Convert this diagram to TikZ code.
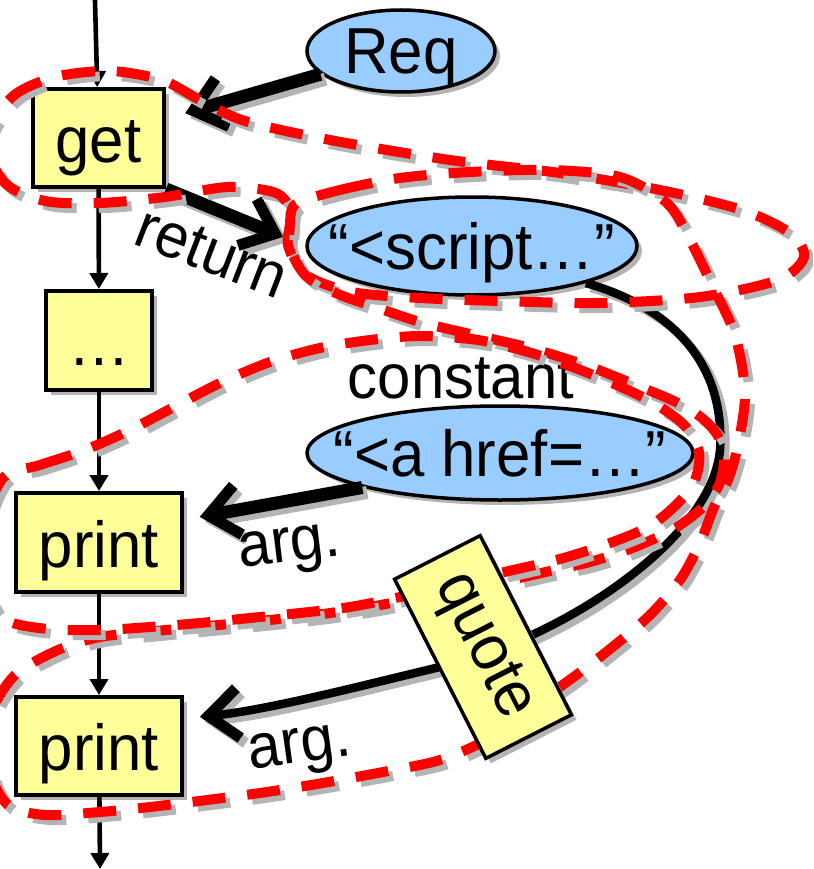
\documentclass[tikz,border=0pt]{standalone}
\usepackage{fontspec}
\setmainfont{Liberation Sans}[FakeStretch=0.95]
\usetikzlibrary{arrows.meta,shadows,shapes.geometric,calc}
\definecolor{boxyellow}{HTML}{FFFF99}
\definecolor{ovalblue}{HTML}{99CCFF}
\definecolor{shgray}{HTML}{B4B4B4}
\definecolor{loopred}{HTML}{FF0000}
\tikzset{
  every node/.style={font=\fontsize{65}{72}\selectfont, inner sep=0pt},
  boxshadow/.style={drop shadow={shadow xshift=5pt, shadow yshift=-5pt, fill=shgray, opacity=1}},
  stmt/.style={draw=black, line width=4pt, fill=boxyellow, boxshadow,
    text height=52pt, text depth=3pt},
  val/.style={ellipse, draw=black, line width=3.5pt, fill=ovalblue, boxshadow,
    inner xsep=-80pt, inner ysep=-25pt, text height=50pt, text depth=4pt},
  lbl/.style={font=\fontsize{63}{70}\selectfont},
  flow/.style={line width=4.6pt, -{Triangle[length=16pt,width=18pt]}},
  dep/.style={line width=13pt, -{Straight Barb[length=30pt,width=50pt,line width=11pt]}},
  copyshift/.style={draw=shgray, transform canvas={shift={(5pt,-5pt)}}},
  plain/.style={},
  sliceline/.style={draw=loopred, line width=10pt, dash pattern=on 33pt off 22pt},
  sliceshadow/.style={sliceline, draw=shgray, transform canvas={shift={(5pt,-5pt)}}},
  quotebox/.style={draw=black, line width=3.5pt, fill=boxyellow}
}
\begin{document}
\begin{tikzpicture}[x=1pt,y=1pt]
\useasboundingbox (0,0) rectangle (813,-869);
\clip (0,0) rectangle (813,-869);

% statements
\node[stmt, minimum width=131pt, minimum height=98pt] (get) at (98.5,-138) {get};
\node[stmt, minimum width=106pt, minimum height=99pt] (dots) at (99,-340.5) {\vphantom{t}…};
\node[stmt, minimum width=166pt, minimum height=99pt] (print1) at (99,-542.5) {print};
\node[stmt, minimum width=166pt, minimum height=98pt] (print2) at (99,-746) {print};

% values
\node[val, minimum width=188pt, minimum height=82pt] (req) at (401,-51) {Req};
\node[val, minimum width=330pt, minimum height=98pt] (script) at (472,-246) {“<script…”};
\node[val, minimum width=386pt, minimum height=94pt] (ahref) at (500,-453) {“<a href=…”};

% control flow
\coordinate (top) at (95,0);
\coordinate (bot) at (100,-869);
\draw[flow] (top) -- (get);
\draw[flow] (get) -- (dots);
\draw[flow] (dots) -- (print1);
\draw[flow] (print1) -- (print2);
\draw[flow] (print2) -- (bot);

% data dependences
\foreach \st in {copyshift,plain} {
  \draw[dep, \st, shorten >=20pt] (req) -- (get);
  \draw[dep, \st, shorten >=24pt] (get.south east) -- (script.west);
  \draw[dep, \st, shorten >=16pt] (ahref.south west) -- (print1.15);
  \draw[dep, \st, line width=8.5pt, shorten >=16pt] (script.-18)
    .. controls (680,-310) and (725,-370) .. (720,-450)
    .. controls (712,-540) and (560,-640) .. (440,-667)
    .. controls (380,-681) and (270,-710) .. (print2.18);
}

% labels
\node[lbl, rotate=-21] (ret) at (212,-253) {return};
\node[lbl] (const) at (461,-378) {constant};
\node[lbl, rotate=7] (arg1) at (290,-551) {arg.};
\node[lbl, rotate=8] (arg2) at (300,-752) {arg.};

% slices
\foreach \st in {sliceshadow,sliceline}
  \draw[\st] plot[smooth cycle] coordinates {
    (-14,-140) (12,-97) (55,-77) (110,-71) (162,-80) (200,-100) (245,-121)
    (330,-140) (450,-160) (560,-173) (660,-190) (742,-210) (790,-233)
    (804,-257) (778,-280) (700,-297) (600,-303) (500,-301) (420,-298)
    (352,-292) (306,-275) (288,-245) (291,-213) (276,-193) (228,-187)
    (165,-197) (100,-203) (45,-201) (5,-183)};
\foreach \st in {sliceshadow,sliceline}
  \draw[\st] plot[smooth cycle] coordinates {
    (296,-204) (340,-190) (400,-178) (470,-172) (550,-170) (620,-177)
    (667,-203) (690,-240) (712,-285) (735,-335) (745,-393) (738,-445)
    (728,-480) (714,-507) (700,-543) (680,-580) (650,-615) (615,-645)
    (575,-676) (530,-708) (490,-738) (440,-760) (383,-772) (317,-784)
    (260,-793) (207,-800) (150,-807) (100,-812) (45,-815) (8,-805)
    (-10,-770) (-9,-715) (15,-675) (58,-650) (100,-637) (156,-631)
    (208,-626) (260,-621) (323,-614) (375,-606) (401,-601) (460,-590)
    (510,-580) (550,-571) (590,-562) (630,-549) (672,-530) (702,-508)
    (719,-485) (724,-458) (718,-436) (702,-418) (676,-402) (638,-386)
    (588,-366) (530,-348) (470,-334) (420,-322) (375,-307) (338,-294)
    (306,-276) (291,-250) (290,-224)};
\foreach \st in {sliceshadow,sliceline}
  \draw[\st] plot[smooth cycle] coordinates {
    (3,-478) (40,-465) (85,-450) (130,-430) (172,-408) (220,-383)
    (270,-362) (320,-348) (370,-340) (420,-336) (478,-340) (528,-352)
    (570,-366) (612,-383) (652,-402) (684,-425) (699,-452) (695,-480)
    (678,-503) (650,-526) (610,-543) (560,-559) (500,-573) (450,-585)
    (400,-597) (350,-607) (300,-613) (250,-618) (200,-623) (150,-627)
    (100,-630) (48,-629) (6,-620) (-14,-590) (-17,-530)};

% quote operation on the string path
\fill[shgray, rotate around={-63:(488,-652)}] (387.5,-700) rectangle (588.5,-604);
\node[quotebox, rotate=-63, minimum width=201pt, minimum height=96pt] (quote) at (483,-647) {quote};
\end{tikzpicture}
\end{document}
